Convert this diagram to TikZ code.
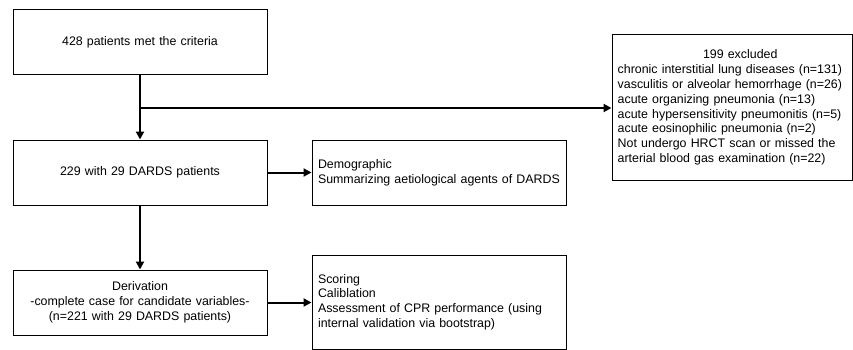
\documentclass[tikz,border=0pt]{standalone}
\usepackage{fontspec}
\setmainfont{Liberation Sans}
\usetikzlibrary{arrows.meta}
\begin{document}
\begin{tikzpicture}[x=1pt,y=-1pt,
  box/.style={draw=black,line width=1pt,inner sep=0pt,minimum height=65pt,
    font=\fontsize{12.4}{14.8}\selectfont},
  cbox/.style={box,align=center,text width=254pt,minimum width=254pt},
  lbox/.style={box,align=left,inner xsep=6pt,text width=242.5pt,minimum width=254.5pt},
  arr/.style={line width=2pt,-{Triangle[length=8pt,width=8pt]}},
  ln/.style={line width=2pt}]
\useasboundingbox (0,0) rectangle (853,350);
\node[cbox] (b1) at (140,42.5) {428 patients met the criteria};
\node[cbox] (b2) at (140,172.5) {229 with 29 DARDS patients};
\node[cbox] (b3) at (140,302.5) {Derivation\\-complete case for candidate variables-\\(n=221 with 29 DARDS patients)};
\node[lbox] (demo) at (439.25,172.5) {Demographic\\Summarizing aetiological agents of DARDS};
\node[lbox,minimum height=94pt] (score) at (439.25,302) {Scoring\\Caliblation\\Assessment of CPR performance (using\\internal validation via bootstrap)};
\node[box,align=left,inner xsep=5.7pt,text width=228.6pt,minimum width=240pt,minimum height=145pt] (excl) at (732,107.5)
  {\hspace*{85.3pt}199 excluded\\chronic interstitial lung diseases (n=131)\\vasculitis or alveolar hemorrhage (n=26)\\acute organizing pneumonia (n=13)\\acute hypersensitivity pneumonitis (n=5)\\acute eosinophilic pneumonia (n=2)\\Not undergo HRCT scan or missed the\\arterial blood gas examination (n=22)};
\coordinate (br) at (140,108);
\draw[arr] (b1.south) -- (b2.north);
\draw[arr] (br) -- (br -| excl.west);
\draw[arr] (b2.south) -- (b3.north);
\draw[arr] (b2.east) -- (demo.west);
\draw[arr] (b3.east) -- (b3.east -| score.west);
\end{tikzpicture}
\end{document}
